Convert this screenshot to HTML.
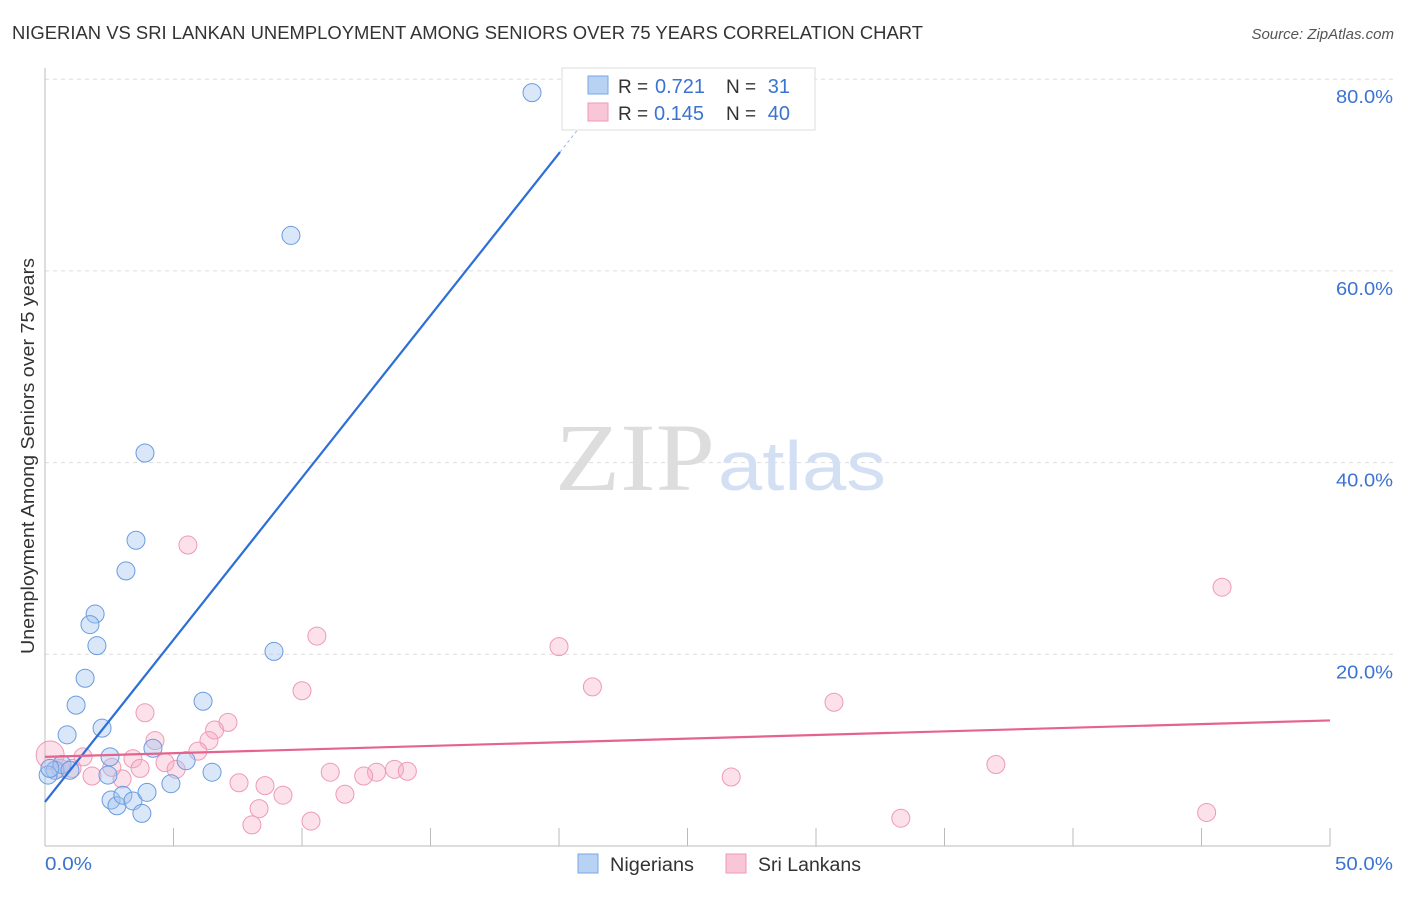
<!DOCTYPE html>
<html><head><meta charset="utf-8"><style>
body{margin:0;background:#fff;font-family:"Liberation Sans",sans-serif;}
</style></head><body>
<svg id="chart" width="1406" height="892" xmlns="http://www.w3.org/2000/svg">
<text x="12" y="39" font-size="18" fill="#333" textLength="911" lengthAdjust="spacingAndGlyphs">NIGERIAN VS SRI LANKAN UNEMPLOYMENT AMONG SENIORS OVER 75 YEARS CORRELATION CHART</text>
<text x="1394" y="39" font-size="15" fill="#555" font-style="italic" text-anchor="end">Source: ZipAtlas.com</text>
<g id="grid"></g>
<text x="555" y="490" font-size="96" fill="#ddd" textLength="160" lengthAdjust="spacingAndGlyphs" font-family="Liberation Serif,serif">ZIP</text>
<text x="718" y="490" font-size="70" fill="#d3e0f3" textLength="168" lengthAdjust="spacingAndGlyphs">atlas</text>
<g id="axes"></g>
<g id="marks"></g>
<text transform="translate(34,456) rotate(-90)" font-size="18" fill="#333" text-anchor="middle" textLength="396" lengthAdjust="spacingAndGlyphs">Unemployment Among Seniors over 75 years</text>
<text x="45" y="870" font-size="18" fill="#3b73d1" textLength="47" lengthAdjust="spacingAndGlyphs">0.0%</text>
<text x="1393" y="870" font-size="18" fill="#3b73d1" text-anchor="end" textLength="58" lengthAdjust="spacingAndGlyphs">50.0%</text>
<g>
<rect x="562" y="68" width="253" height="62" fill="#fff" stroke="#ddd"/>
<rect x="588" y="76" width="20" height="18" fill="#b8d2f4" stroke="#7aa6e6"/>
<rect x="588" y="103" width="20" height="18" fill="#f8c6d6" stroke="#ee9ab5"/>
<text x="618" y="93" font-size="19" fill="#333">R =</text>
<text x="655" y="93" font-size="20" fill="#3b73d1">0.721</text>
<text x="726" y="93" font-size="19" fill="#333">N =</text>
<text x="790" y="93" font-size="20" fill="#3b73d1" text-anchor="end">31</text>
<text x="618" y="120" font-size="19" fill="#333">R =</text>
<text x="654" y="120" font-size="20" fill="#3b73d1">0.145</text>
<text x="726" y="120" font-size="19" fill="#333">N =</text>
<text x="790" y="120" font-size="20" fill="#3b73d1" text-anchor="end">40</text>
</g>
<g>
<rect x="578" y="854" width="20" height="19" fill="#b8d2f4" stroke="#7aa6e6"/>
<text x="610" y="871" font-size="19" fill="#333" textLength="84" lengthAdjust="spacingAndGlyphs">Nigerians</text>
<rect x="726" y="854" width="20" height="19" fill="#f8c6d6" stroke="#ee9ab5"/>
<text x="758" y="871" font-size="19" fill="#333" textLength="103" lengthAdjust="spacingAndGlyphs">Sri Lankans</text>
</g>
</svg>
<script>
const yTicks=[20,40,60,80];
const yTickLabels=["20.0%","40.0%","60.0%","80.0%"];
const xTickVals=[0,5,10,15,20,25,30,35,40,45,50];
const nigX=[18.95,9.57,3.89,3.54,3.15,1.95,1.75,2.02,1.56,8.91,1.21,6.15,0.86,2.22,4.2,5.49,6.5,2.53,2.45,0.39,0.66,0.12,0.97,2.57,2.8,3.03,3.42,3.97,3.77,4.9,0.19];
const nigY=[78.6,63.7,41.0,31.9,28.7,24.2,23.1,20.9,17.5,20.3,14.7,15.1,11.6,12.3,10.2,8.9,7.7,9.3,7.4,7.9,8.5,7.4,7.9,4.8,4.2,5.3,4.7,5.6,3.4,6.5,8.1];
const sriX=[5.56,45.8,10.58,20.0,21.3,10.0,30.7,3.89,7.12,6.6,4.28,6.38,5.95,3.42,1.48,4.67,5.1,11.1,13.6,12.9,12.4,14.1,37.0,26.7,1.83,3.0,7.55,8.56,9.26,11.67,8.33,8.05,10.35,33.3,45.2,0.2,0.6,1.05,2.6,3.7];
const sriY=[31.4,27.0,21.9,20.8,16.6,16.2,15.0,13.9,12.9,12.1,11.0,11.0,9.9,9.1,9.3,8.7,8.0,7.7,8.0,7.7,7.3,7.8,8.5,7.2,7.3,7.0,6.6,6.3,5.3,5.4,3.9,2.2,2.6,2.9,3.5,9.5,8.1,8.1,8.2,8.1];
const nigLine=[[0,4.6],[20.04,72.4]];
const sriLine=[[0,9.3],[50,13.1]];
const NS="http://www.w3.org/2000/svg";
const xs=v=>45+v*25.7, ys=v=>846-v*9.585;
function mk(t,a,p){const e=document.createElementNS(NS,t);for(const k in a)e.setAttribute(k,a[k]);document.getElementById(p).appendChild(e);return e;}
yTicks.forEach((t,i)=>{
 const l=mk('line',{x1:45,x2:1393,y1:ys(t),y2:ys(t),stroke:'#ddd','stroke-dasharray':'4,4'},'grid');
 
 
 const tx=mk('text',{x:1393,y:ys(t)+24,'font-size':18,fill:'#3b73d1','text-anchor':'end',textLength:57,lengthAdjust:'spacingAndGlyphs'},'grid');
 tx.textContent=yTickLabels[i];
 
 
});
const ax=mk('line',{x1:45,x2:45,y1:68,y2:846,stroke:'#bbb'},'axes');


const bx=mk('line',{x1:45,x2:1330,y1:846,y2:846,stroke:'#bbb'},'axes');


xTickVals.forEach(v=>{if(v===0)return;
 const t=mk('line',{x1:xs(v),x2:xs(v),y1:828,y2:846,stroke:'#bbb'},'axes');
 
 
});
sriX.forEach((x,i)=>{
 const c=mk('circle',{cx:xs(x),cy:ys(sriY[i]),r:i===35?14:9,fill:'rgba(246,170,196,0.35)',stroke:'#ee9ab5','stroke-width':1},'marks');
 
 
});
nigX.forEach((x,i)=>{
 const c=mk('circle',{cx:xs(x),cy:ys(nigY[i]),r:9,fill:'rgba(160,196,240,0.4)',stroke:'#6a9be0','stroke-width':1},'marks');
 
 
});
const b=mk('line',{x1:xs(nigLine[0][0]),y1:ys(nigLine[0][1]),x2:xs(nigLine[1][0]),y2:ys(nigLine[1][1]),stroke:'#2d6fd6','stroke-width':2.2},'marks');


const slope=(nigLine[1][1]-nigLine[0][1])/(nigLine[1][0]-nigLine[0][0]);
const bd=mk('line',{x1:xs(nigLine[1][0]),y1:ys(nigLine[1][1]),x2:xs(nigLine[1][0]+1),y2:ys(nigLine[1][1]+slope),stroke:'#9bbbe8','stroke-width':1,'stroke-dasharray':'3,3'},'marks');


const p=mk('line',{x1:xs(sriLine[0][0]),y1:ys(sriLine[0][1]),x2:xs(sriLine[1][0]),y2:ys(sriLine[1][1]),stroke:'#e5648f','stroke-width':2.2},'marks');


</script>
</body></html>
